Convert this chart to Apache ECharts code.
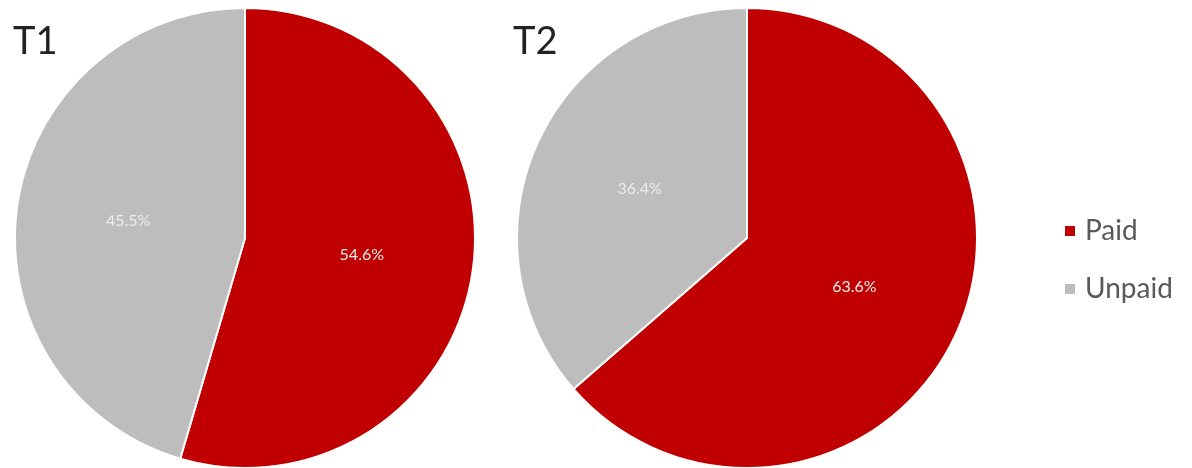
<!DOCTYPE html>
<html>
<head>
<meta charset="utf-8">
<script src="https://cdn.jsdelivr.net/npm/echarts@6/dist/echarts.min.js"></script>
<style>
html,body{margin:0;padding:0;background:#fff;}
#chart{width:1192px;height:468px;}
</style>
</head>
<body>
<div id="chart"></div>
<script>
const categories = ['Paid', 'Unpaid'];
const panelTitles = ['T1', 'T2'];
const t1Values = [54.6, 45.5];
const t2Values = [63.6, 36.4];
const colors = ['#C00000', '#BDBDBD'];

const chart = echarts.init(document.getElementById('chart'));

function pieSeries(values, center) {
  return {
    type: 'pie',
    center: center,
    radius: 230,
    startAngle: 90,
    clockwise: true,
    avoidLabelOverlap: false,
    silent: true,
    itemStyle: { borderColor: '#ffffff', borderWidth: 2 },
    label: {
      show: true,
      position: 'inside',
      formatter: p => p.value.toFixed(1) + '%',
      color: '#EDEDED',
      fontFamily: 'Lato',
      fontSize: 16
    },
    labelLine: { show: false },
    data: categories.map((c, i) => ({ name: c, value: values[i] }))
  };
}

chart.setOption({
  animation: false,
  color: colors,
  title: [
    { text: panelTitles[0], left: 8, top: 18, textStyle: { fontFamily: 'Lato', fontSize: 38, fontWeight: 'normal', color: '#222222' } },
    { text: panelTitles[1], left: 508, top: 18, textStyle: { fontFamily: 'Lato', fontSize: 38, fontWeight: 'normal', color: '#222222' } }
  ],
  legend: {
    orient: 'vertical',
    left: 1058,
    top: 212,
    itemWidth: 12,
    itemHeight: 12,
    itemGap: 30,
    icon: 'rect',
    data: categories,
    textStyle: { fontFamily: 'Lato', fontSize: 28, color: '#595959', lineHeight: 28, padding: [0, 0, 0, 4] }
  },
  series: [
    pieSeries(t1Values, [245, 238]),
    pieSeries(t2Values, [747, 238])
  ]
});
</script>
</body>
</html>
